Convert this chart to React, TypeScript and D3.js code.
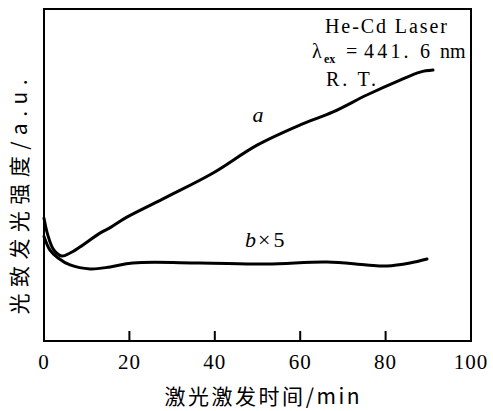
import React, { useEffect, useRef } from "react";
import * as d3 from "d3";

// curve a: time (min) vs intensity (a.u.)
const timeA = [0, 0.9, 2.3, 4.2, 6.1, 8.4, 13.1, 15.7, 19.4, 28.8, 39.6, 49.9, 60, 67.7, 75.6, 83.4, 88.1, 91.1];
const valueA = [37.0, 31.9, 27.4, 25.6, 26.5, 28.3, 32.5, 34.3, 37.3, 43.4, 50.6, 59.0, 65.1, 69.0, 74.1, 78.6, 81.0, 81.6];

// curve b (x5)
const timeB = [0, 1.4, 3.3, 6.1, 10.8, 15.5, 20.8, 36.5, 52.2, 66.3, 75.6, 80.3, 85.7, 89.7];
const valueB = [31.5, 27.4, 25.0, 22.9, 21.7, 22.3, 23.5, 23.5, 23.2, 23.8, 22.9, 22.6, 23.5, 24.7];

const xTicks = [0, 20, 40, 60, 80, 100];
const innerTicks = [20, 40, 60, 80];

const serif = "Liberation Serif";
const cjk = "Noto Sans CJK SC";

const App = () => {
  const ref = useRef<SVGSVGElement>(null);

  useEffect(() => {
    const svg = d3.select(ref.current);
    svg.selectAll("*").remove();

    const margin = { top: 9, right: 22, bottom: 70, left: 44 };
    const width = 493;
    const height = 411;

    const x = d3.scaleLinear().domain([0, 100]).range([margin.left, width - margin.right]);
    const y = d3.scaleLinear().domain([0, 100]).range([height - margin.bottom, margin.top]);

    // frame
    svg
      .append("rect")
      .attr("x", x(0))
      .attr("y", y(100))
      .attr("width", x(100) - x(0))
      .attr("height", y(0) - y(100))
      .attr("fill", "none")
      .attr("stroke", "#000")
      .attr("stroke-width", 2);

    // inward ticks on the bottom
    svg
      .append("g")
      .selectAll("line")
      .data(innerTicks)
      .enter()
      .append("line")
      .attr("x1", (d) => x(d))
      .attr("x2", (d) => x(d))
      .attr("y1", y(0))
      .attr("y2", y(0) - 10)
      .attr("stroke", "#000")
      .attr("stroke-width", 2);

    svg
      .append("g")
      .selectAll("text")
      .data(xTicks)
      .enter()
      .append("text")
      .attr("x", (d) => x(d))
      .attr("y", 369)
      .attr("text-anchor", "middle")
      .style("font-family", serif)
      .attr("font-size", 21)
      .attr("letter-spacing", 1)
      .text((d) => d);

    const line = d3
      .line<[number, number]>()
      .x((d) => x(d[0]))
      .y((d) => y(d[1]))
      .curve(d3.curveCatmullRom.alpha(0.5));

    const drawCurve = (ts: number[], vs: number[]) => {
      svg
        .append("path")
        .datum(ts.map((t, i) => [t, vs[i]] as [number, number]))
        .attr("d", line)
        .attr("fill", "none")
        .attr("stroke", "#000")
        .attr("stroke-width", 3)
        .attr("stroke-linejoin", "round")
        .attr("stroke-linecap", "round");
    };
    drawCurve(timeA, valueA);
    drawCurve(timeB, valueB);

    // curve labels
    svg
      .append("text")
      .attr("x", 258)
      .attr("y", 122)
      .attr("text-anchor", "middle")
      .style("font-family", serif)
      .attr("font-style", "italic")
      .attr("font-size", 22)
      .text("a");

    const bl = svg
      .append("text")
      .attr("x", 245)
      .attr("y", 247)
      .style("font-family", serif)
      .attr("font-size", 22);
    bl.append("tspan").attr("font-style", "italic").text("b");
    bl.append("tspan").attr("dx", 2).text("\u00d7");
    bl.append("tspan").attr("dx", 3).text("5");

    // annotation
    svg
      .append("text")
      .attr("x", 325)
      .attr("y", 33)
      .style("font-family", serif)
      .attr("font-size", 20)
      .attr("textLength", 122)
      .text("He-Cd Laser");

    const lam = svg
      .append("g")
      .style("font-family", serif)
      .attr("font-size", 20);
    lam.append("text").attr("x", 312).attr("y", 58).text("\u03bb");
    lam.append("text").attr("x", 324).attr("y", 63).attr("font-size", 12).attr("font-weight", "bold").text("ex");
    lam.append("text").attr("x", 346).attr("y", 58).text("=");
    lam.append("text").attr("x", 364).attr("y", 58).attr("textLength", 66).text("441. 6");
    lam.append("text").attr("x", 440).attr("y", 58).text("nm");

    svg
      .append("text")
      .attr("x", 326)
      .attr("y", 86)
      .style("font-family", serif)
      .attr("font-size", 20)
      .attr("textLength", 50)
      .text("R. T.");

    // axis titles
    svg
      .append("text")
      .attr("x", 262)
      .attr("y", 404)
      .attr("text-anchor", "middle")
      .style("font-family", cjk)
      .attr("font-size", 21)
      .attr("textLength", 195)
      .text("激光激发时间/min");

    svg
      .append("text")
      .attr("transform", "translate(27,197) rotate(-90)")
      .attr("text-anchor", "middle")
      .style("font-family", cjk)
      .attr("font-size", 21)
      .attr("textLength", 235)
      .text("光致发光强度/a.u.");
  }, []);

  return (
    <svg
      ref={ref}
      width={493}
      height={411}
      style={{ position: "absolute", left: 0, top: 0, background: "#fff" }}
    ></svg>
  );
};

export default App;
